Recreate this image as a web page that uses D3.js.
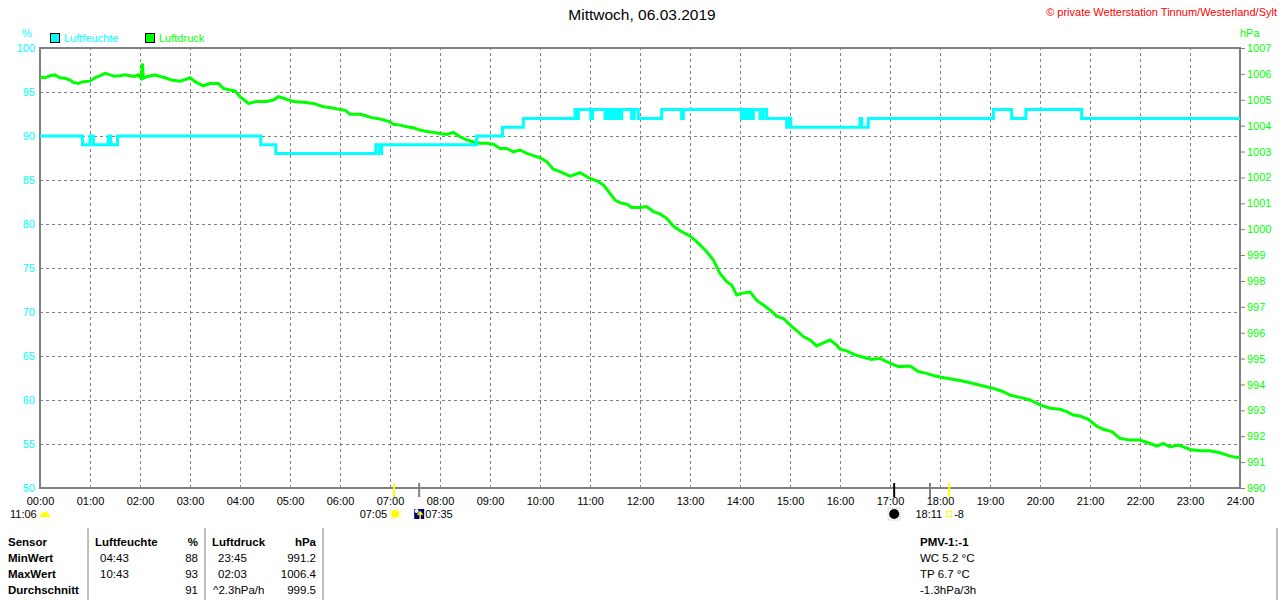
<!DOCTYPE html>
<html>
<head>
<meta charset="utf-8">
<script src="https://cdn.jsdelivr.net/npm/d3@7/dist/d3.min.js"></script>
<style>
body { margin: 0; background: #fff; }
text { font-family: "Liberation Sans", Arial, sans-serif; }
</style>
</head>
<body>
<div id="chart"></div>
<script>
// chart data
var hourLabels = ["00:00","01:00","02:00","03:00","04:00","05:00","06:00","07:00","08:00",
  "09:00","10:00","11:00","12:00","13:00","14:00","15:00","16:00","17:00","18:00",
  "19:00","20:00","21:00","22:00","23:00","24:00"];
var humTicks = [50, 55, 60, 65, 70, 75, 80, 85, 90, 95, 100];
var pressTicks = [990, 991, 992, 993, 994, 995, 996, 997, 998, 999, 1000,
  1001, 1002, 1003, 1004, 1005, 1006, 1007];

// Luftfeuchte (%), step values: [minute of day, value]
var humidity = [
  [0,90],[51,89],[60,90],[64,89],[82,90],[85,89],[93,90],[265,89],[283,88],
  [403,89],[407,88],[410,89],[524,90],[555,91],[580,92],[642,93],[644,92],[646,93],
  [661,92],[663,93],[678,92],[681,93],[684,92],[687,93],[690,92],[693,93],[696,92],
  [698,93],[710,92],[713,93],[718,92],[746,93],[770,92],[772,93],[842,92],[845,93],
  [848,92],[851,93],[854,92],[856,93],[864,92],[868,93],[872,92],[896,91],[899,92],
  [901,91],[984,92],[986,91],[994,92],[1144,93],[1166,92],[1183,93],[1250,92],[1440,92]
];

// Luftdruck (hPa): [minute of day, value]
var pressure = [
  [0,1005.87],[6,1005.85],[12,1005.93],[18,1005.96],[24,1005.85],[30,1005.83],[36,1005.76],
  [40,1005.67],[46,1005.63],[52,1005.70],[60,1005.72],[66,1005.85],[72,1005.93],[78,1006.02],
  [84,1005.96],[90,1005.91],[96,1005.93],[102,1005.97],[108,1005.93],[114,1005.90],[118,1005.96],
  [121,1005.85],[123,1006.40],[124,1005.83],[128,1005.89],[138,1005.96],[144,1005.90],[150,1005.85],
  [158,1005.76],[168,1005.72],[176,1005.80],[180,1005.85],[186,1005.70],[196,1005.54],[204,1005.63],
  [214,1005.63],[220,1005.44],[228,1005.38],[234,1005.34],[240,1005.12],[250,1004.86],[260,1004.93],
  [272,1004.93],[280,1004.99],[286,1005.12],[296,1005.02],[304,1004.93],[316,1004.90],[328,1004.86],
  [340,1004.73],[350,1004.69],[360,1004.62],[366,1004.60],[372,1004.44],[384,1004.44],[390,1004.39],
  [398,1004.31],[408,1004.26],[420,1004.15],[424,1004.05],[432,1004.02],[440,1003.96],[448,1003.92],
  [456,1003.83],[464,1003.77],[472,1003.74],[480,1003.70],[488,1003.66],[496,1003.74],[504,1003.57],
  [512,1003.45],[520,1003.38],[528,1003.32],[536,1003.32],[544,1003.28],[552,1003.12],[560,1003.12],
  [568,1002.99],[576,1003.06],[584,1002.93],[592,1002.84],[600,1002.76],[608,1002.61],[616,1002.32],
  [624,1002.22],[636,1002.05],[648,1002.18],[660,1001.96],[668,1001.87],[676,1001.71],[684,1001.38],
  [690,1001.13],[696,1001.02],[704,1000.97],[710,1000.84],[720,1000.84],[728,1000.87],[736,1000.68],
  [744,1000.59],[752,1000.42],[760,1000.12],[768,999.94],[780,999.74],[788,999.52],[800,999.13],
  [808,998.81],[816,998.29],[824,997.97],[830,997.84],[836,997.46],[842,997.52],[852,997.58],
  [860,997.26],[868,997.07],[876,996.88],[884,996.64],[892,996.55],[900,996.30],[908,996.08],
  [916,995.85],[924,995.72],[932,995.49],[940,995.61],[948,995.72],[956,995.52],[960,995.36],
  [968,995.30],[978,995.14],[988,995.05],[998,994.97],[1008,995.01],[1020,994.82],[1030,994.69],
  [1044,994.71],[1054,994.50],[1064,994.43],[1074,994.33],[1088,994.24],[1104,994.15],[1120,994.04],
  [1132,993.94],[1144,993.85],[1156,993.72],[1164,993.59],[1176,993.50],[1188,993.40],[1200,993.21],
  [1212,993.08],[1224,993.04],[1232,992.95],[1240,992.82],[1248,992.78],[1258,992.65],[1268,992.39],
  [1276,992.27],[1286,992.18],[1296,991.92],[1308,991.85],[1320,991.85],[1332,991.72],[1340,991.62],
  [1348,991.72],[1356,991.59],[1366,991.66],[1372,991.59],[1380,991.49],[1392,991.44],[1404,991.44],
  [1416,991.36],[1428,991.23],[1436,991.18],[1440,991.20]
];

// sun / moon events on the time axis (minutes)
var eventTime = [425, 455, 1025, 1068, 1091];
var eventKind = ["sun", "moon", "transit", "moon", "sun"];

// statistics table
var tableHead = ["Sensor", "Luftfeuchte", "%", "Luftdruck", "hPa"];
var tableRowNames = ["MinWert", "MaxWert", "Durchschnitt"];
var humTimes = ["04:43", "10:43", ""];
var humStats = ["88", "93", "91"];
var pressTimes = ["23:45", "02:03", "^2.3hPa/h"];
var pressStats = ["991.2", "1006.4", "999.5"];
var extraHead = "PMV-1:-1";
var extraLines = ["WC 5.2 °C", "TP 6.7 °C", "-1.3hPa/3h"];

var cyan = "#00ffff", green = "#00ff00", grey = "#808080";

var svg = d3.select("#chart").append("svg")
  .attr("width", 1280)
  .attr("height", 600)
  .style("background", "#fff");

var plotLeft = 40, plotRight = 1240, plotTop = 48, plotBottom = 488;

var x = d3.scaleLinear().domain([0, 1440]).range([plotLeft, plotRight]);
var yHum = d3.scaleLinear().domain([50, 100]).range([plotBottom, plotTop]);
var yPress = d3.scaleLinear().domain([990, 1007]).range([plotBottom, plotTop]);

var fontFam = '"Liberation Sans", Arial, sans-serif';

// grid
svg.append("g")
  .attr("transform", `translate(0, ${plotBottom})`)
  .call(d3.axisBottom(x).tickValues(d3.range(1, 24).map(h => h * 60))
    .tickSize(-(plotBottom - plotTop)).tickFormat(""))
  .call(g => g.select(".domain").remove())
  .call(g => g.selectAll("line").attr("stroke", grey).attr("stroke-dasharray", "3,3")
    .attr("shape-rendering", "crispEdges"));

svg.append("g")
  .attr("transform", `translate(${plotLeft}, 0)`)
  .call(d3.axisLeft(yHum).tickValues(humTicks.slice(1, -1))
    .tickSize(-(plotRight - plotLeft)).tickFormat(""))
  .call(g => g.select(".domain").remove())
  .call(g => g.selectAll("line").attr("stroke", grey).attr("stroke-dasharray", "3,3")
    .attr("shape-rendering", "crispEdges"));

// frame
svg.append("path")
  .attr("d", `M${plotLeft},${plotBottom}V${plotTop}H${plotRight}V${plotBottom}Z`)
  .attr("fill", "none")
  .attr("stroke", grey)
  .attr("stroke-width", 2);

// x axis labels
svg.append("g")
  .attr("transform", `translate(0, ${plotBottom})`)
  .call(d3.axisBottom(x).tickValues(d3.range(25).map(h => h * 60)).tickSize(0).tickPadding(9)
    .tickFormat((d, i) => hourLabels[i]))
  .call(g => g.select(".domain").remove())
  .call(g => g.selectAll("text").attr("fill", "#000").style("font-size", "11px")
    .style("font-family", fontFam));

// left axis labels
svg.append("g")
  .attr("transform", `translate(${plotLeft}, 0)`)
  .call(d3.axisLeft(yHum).tickValues(humTicks).tickSize(0).tickPadding(5))
  .call(g => g.select(".domain").remove())
  .call(g => g.selectAll("text").attr("fill", cyan).style("font-size", "11px")
    .style("font-family", fontFam));

// right axis labels
svg.append("g")
  .attr("transform", `translate(${plotRight}, 0)`)
  .call(d3.axisRight(yPress).tickValues(pressTicks).tickSize(5).tickPadding(2)
    .tickFormat(d3.format("d")))
  .call(g => g.select(".domain").remove())
  .call(g => g.selectAll("line").attr("stroke", grey))
  .call(g => g.selectAll("text").attr("fill", green).style("font-size", "11px")
    .style("font-family", fontFam));

// units
svg.append("text").attr("x", 27).attr("y", 37).attr("text-anchor", "middle")
  .attr("fill", cyan).style("font-size", "11px").text("%");
svg.append("text").attr("x", 1240).attr("y", 37)
  .attr("fill", green).style("font-size", "11px").text("hPa");

// title
svg.append("text").attr("x", 642).attr("y", 20).attr("text-anchor", "middle")
  .attr("fill", "#000").style("font-size", "15.5px").text("Mittwoch, 06.03.2019");
svg.append("text").attr("x", 1277).attr("y", 16).attr("text-anchor", "end")
  .attr("fill", "#ff0000").style("font-size", "11px")
  .text("© private Wetterstation Tinnum/Westerland/Sylt");

// legend
var legend = [["Luftfeuchte", cyan, 50], ["Luftdruck", green, 145]];
legend.forEach(function(l) {
  svg.append("rect").attr("x", l[2] + 0.5).attr("y", 33.5).attr("width", 9).attr("height", 9)
    .attr("fill", l[1]).attr("stroke", "#000");
  svg.append("text").attr("x", l[2] + 14).attr("y", 42).attr("fill", l[1])
    .style("font-size", "11px").text(l[0]);
});

// lines
var pressLine = d3.line()
  .x(d => x(d[0]))
  .y(d => yPress(d[1]));
svg.append("path")
  .datum(pressure)
  .attr("fill", "none")
  .attr("stroke", green)
  .attr("stroke-width", 3)
  .attr("d", pressLine);

var humLine = d3.line()
  .curve(d3.curveStepAfter)
  .x(d => x(d[0]))
  .y(d => yHum(d[1]));
svg.append("path")
  .datum(humidity)
  .attr("fill", "none")
  .attr("stroke", cyan)
  .attr("stroke-width", 3)
  .attr("d", humLine);

// sun / moon markers
var kindColor = { sun: "#ffff00", moon: grey, transit: "#000" };
eventTime.forEach(function(t, i) {
  svg.append("line")
    .attr("x1", x(t)).attr("x2", x(t))
    .attr("y1", plotBottom - 5).attr("y2", plotBottom + 9)
    .attr("stroke", kindColor[eventKind[i]])
    .attr("stroke-width", 2);
});

var fs = "11px";
// day length + icon
svg.append("text").attr("x", 10).attr("y", 518).style("font-size", fs).text("11:06");
svg.append("path").attr("d", "M40,517 A5,5 0 0 1 50,517 Z").attr("fill", "#ffff00");

// sunrise
var sr = x(eventTime[0]);
svg.append("text").attr("x", sr - 7).attr("y", 518).attr("text-anchor", "end").style("font-size", fs).text("07:05");
svg.append("circle").attr("cx", sr + 1).attr("cy", 514).attr("r", 6).attr("fill", "none")
  .attr("stroke", "#ffff99").attr("stroke-dasharray", "2,2");
svg.append("circle").attr("cx", sr + 1).attr("cy", 514).attr("r", 4).attr("fill", "#ffff00");

// moonrise
var mr = x(eventTime[1]);
svg.append("rect").attr("x", mr - 5).attr("y", 509).attr("width", 10).attr("height", 10).attr("fill", "#000080");
svg.append("circle").attr("cx", mr - 2.5).attr("cy", 511).attr("r", 2).attr("fill", "#fff");
svg.append("path").attr("d", `M${mr + 1},519 V513 M${mr - 1.5},515 L${mr + 1},512 L${mr + 3.5},515`)
  .attr("stroke", "#ffff00").attr("stroke-width", 1.5).attr("fill", "none");
svg.append("text").attr("x", mr + 6).attr("y", 518).style("font-size", fs).text("07:35");

// moon transit
var mt = x(eventTime[2]);
svg.append("rect").attr("x", mt - 6).attr("y", 508).attr("width", 12).attr("height", 12)
  .attr("fill", "none").attr("stroke", "#bbb").attr("stroke-dasharray", "1,1");
svg.append("circle").attr("cx", mt).attr("cy", 514).attr("r", 5).attr("fill", "#000");

// sunset
var ss = x(eventTime[4]);
svg.append("text").attr("x", ss - 7).attr("y", 518).attr("text-anchor", "end").style("font-size", fs).text("18:11");
svg.append("rect").attr("x", ss - 2.5).attr("y", 511.5).attr("width", 5).attr("height", 5)
  .attr("fill", "none").attr("stroke", "#ffff00");
svg.append("text").attr("x", ss + 5).attr("y", 518).style("font-size", fs).text("-8");

// table
[88, 205, 323, 1277].forEach(function(lx) {
  svg.append("line").attr("x1", lx).attr("x2", lx).attr("y1", 528).attr("y2", 600)
    .attr("stroke", grey).attr("stroke-width", 1);
});

var rowY = [546, 562, 578, 594];
var tfs = "11.5px";
function cell(tx, ty, str, anchor, bold) {
  svg.append("text").attr("x", tx).attr("y", ty)
    .attr("text-anchor", anchor || "start")
    .style("font-size", tfs)
    .style("font-weight", bold ? "bold" : "normal")
    .attr("fill", "#000")
    .text(str);
}
cell(8, rowY[0], tableHead[0], "start", true);
cell(95, rowY[0], tableHead[1], "start", true);
cell(198, rowY[0], tableHead[2], "end", true);
cell(212, rowY[0], tableHead[3], "start", true);
cell(316, rowY[0], tableHead[4], "end", true);
tableRowNames.forEach(function(name, i) {
  var ry = rowY[i + 1];
  cell(8, ry, name, "start", true);
  cell(100, ry, humTimes[i]);
  cell(198, ry, humStats[i], "end");
  cell(i == 2 ? 213 : 218, ry, pressTimes[i]);
  cell(316, ry, pressStats[i], "end");
});
cell(920, rowY[0], extraHead, "start", true);
extraLines.forEach(function(s, i) { cell(920, rowY[i + 1], s); });
</script>
</body>
</html>
